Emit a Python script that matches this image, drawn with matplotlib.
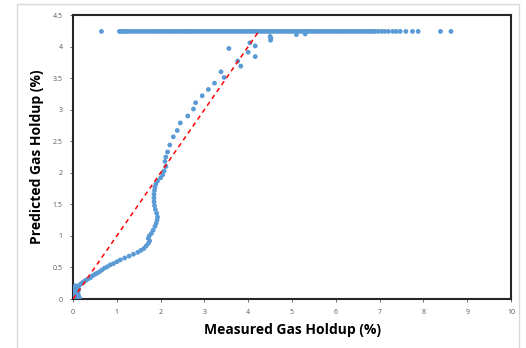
import matplotlib
matplotlib.use("Agg")
import matplotlib.pyplot as plt
from matplotlib.patches import Rectangle

plt.rcParams['font.family'] = ['Open Sans', 'DejaVu Sans']

# Measured vs predicted gas holdup (%), points below the prediction cap
measured = [0.0, 0.02, 0.04, 0.06, 0.08, 0.10, 0.12, 0.14, 0.0, 0.02, 0.05, 0.08,
            0.11, 0.14, 0.01, 0.03, 0.06, 0.09, 0.12, 0.0, 0.02, 0.05, 0.08, 0.11,
            0.01, 0.04, 0.07, 0.10, 0.03, 0.06, 0.09, 0.13, 0.02, 0.05, 0.08, 0.11,
            0.12, 0.15, 0.18, 0.22, 0.26, 0.30, 0.35, 0.40, 0.45, 0.50, 0.55, 0.60,
            0.66, 0.72, 0.78, 0.85, 0.92, 1.00, 1.08, 1.18, 1.28, 1.38, 1.48, 1.55,
            1.62, 1.67, 1.72, 1.75, 1.72, 1.74, 1.79, 1.83, 1.87, 1.90, 1.92, 1.93,
            1.91, 1.88, 1.86, 1.85, 1.85, 1.85, 1.86, 1.87, 1.89, 1.93, 2.00, 2.05,
            2.08, 2.12, 2.10, 2.12, 2.16, 2.21, 2.29, 2.38, 2.45, 2.62, 2.75, 2.80,
            2.95, 3.09, 3.23, 3.45, 3.38, 3.56, 3.76, 3.83, 4.00, 4.04, 4.16, 4.16,
            4.50, 4.51, 4.52, 5.10, 5.30]
predicted = [0.0, 0.0, 0.01, 0.0, 0.02, 0.01, 0.0, 0.01, 0.03, 0.05, 0.04, 0.05,
             0.04, 0.03, 0.08, 0.10, 0.09, 0.08, 0.07, 0.12, 0.14, 0.13, 0.12, 0.11,
             0.17, 0.16, 0.18, 0.16, 0.20, 0.21, 0.19, 0.15, 0.06, 0.07, 0.10, 0.13,
             0.20, 0.22, 0.24, 0.26, 0.28, 0.30, 0.32, 0.34, 0.37, 0.39, 0.41, 0.43,
             0.46, 0.49, 0.51, 0.54, 0.56, 0.59, 0.62, 0.65, 0.68, 0.71, 0.74, 0.77,
             0.80, 0.84, 0.88, 0.92, 0.96, 1.00, 1.04, 1.09, 1.15, 1.20, 1.25, 1.30,
             1.36, 1.42, 1.48, 1.54, 1.60, 1.66, 1.72, 1.77, 1.82, 1.87, 1.92, 1.97,
             2.03, 2.10, 2.18, 2.25, 2.33, 2.44, 2.57, 2.67, 2.79, 2.90, 3.01, 3.11,
             3.22, 3.32, 3.42, 3.51, 3.60, 3.97, 3.77, 3.69, 3.91, 4.06, 4.01, 3.84,
             4.16, 4.10, 4.13, 4.19, 4.20]

# Points where the prediction saturates at its upper limit
capped_measured = [0.65, 1.06, 1.09, 1.13, 1.17, 1.21, 1.25, 1.31, 1.36, 1.42,
                   1.47, 1.53, 1.58, 1.64, 1.70,
                   1.76, 1.81, 1.86, 1.92, 1.97, 2.02, 2.07, 2.13, 2.18, 2.23, 2.28,
                   2.34, 2.39, 2.44, 2.49, 2.55, 2.60, 2.65, 2.70, 2.76, 2.81, 2.86,
                   2.91, 2.97, 3.02, 3.07, 3.12, 3.18, 3.23, 3.28, 3.33, 3.39, 3.44,
                   3.49, 3.54, 3.60, 3.65, 3.70, 3.75, 3.81, 3.86, 3.91, 3.96, 4.02,
                   4.07, 4.12, 4.17, 4.23, 4.28, 4.33, 4.38, 4.44, 4.49, 4.54, 4.59,
                   4.65, 4.70, 4.75, 4.80, 4.86, 4.91, 4.96, 5.01, 5.07, 5.12, 5.17,
                   5.22, 5.28, 5.33, 5.38, 5.43, 5.49, 5.54, 5.59, 5.64, 5.70, 5.75,
                   5.80, 5.85, 5.91, 5.96, 6.01, 6.06, 6.12, 6.17, 6.22, 6.27, 6.33,
                   6.38, 6.43, 6.48, 6.54, 6.59, 6.64, 6.69, 6.75, 6.80, 6.85, 6.90,
                   6.97, 7.05, 7.12, 7.20, 7.30, 7.38, 7.47, 7.60, 7.75, 7.88, 8.39,
                   8.63]
capped_value = 4.24

# Parity line
parity = [0.0, 4.22]

x_ticks = [0, 1, 2, 3, 4, 5, 6, 7, 8, 9, 10]
y_ticks = [0, 0.5, 1, 1.5, 2, 2.5, 3, 3.5, 4, 4.5]
y_tick_labels = ['0', '0.5', '1', '1.5', '2', '2.5', '3', '3.5', '4', '4.5']

fig = plt.figure(figsize=(5.26, 3.48), dpi=100)
ax = fig.add_axes([73 / 526, 1 - 299 / 348, 438 / 526, 284 / 348])

blue = '#5B9BD5'
ax.scatter(measured, predicted, s=12, color=blue, edgecolors='none', zorder=3)
ax.scatter(capped_measured, [capped_value] * len(capped_measured), s=12,
           color=blue, edgecolors='none', zorder=3)
ax.plot(parity, parity, color='#FF0000', linestyle=(0, (3, 2.5)), linewidth=1.1,
        zorder=4)

ax.set_xlim(0, 10)
ax.set_ylim(0, 4.5)
ax.set_xticks(x_ticks)
ax.set_yticks(y_ticks)
ax.set_yticklabels(y_tick_labels)
ax.tick_params(axis='both', labelsize=5, colors='#595959', length=2.5, width=0.6,
               pad=5)
for side in ax.spines.values():
    side.set_linewidth(1.5)
    side.set_color('#262626')

ax.set_xlabel('Measured Gas Holdup (%)', fontsize=10, fontweight='bold', labelpad=5)
ax.set_ylabel('Predicted Gas Holdup (%)', fontsize=10, fontweight='bold', labelpad=6)

# Outer chart frame
fig.patches.append(Rectangle((17 / 526, -0.05), 502 / 526, 1.05 - 4 / 348,
                             transform=fig.transFigure, fill=False,
                             edgecolor='#D9D9D9', linewidth=1.0))

fig.savefig('out.png', dpi=100)
